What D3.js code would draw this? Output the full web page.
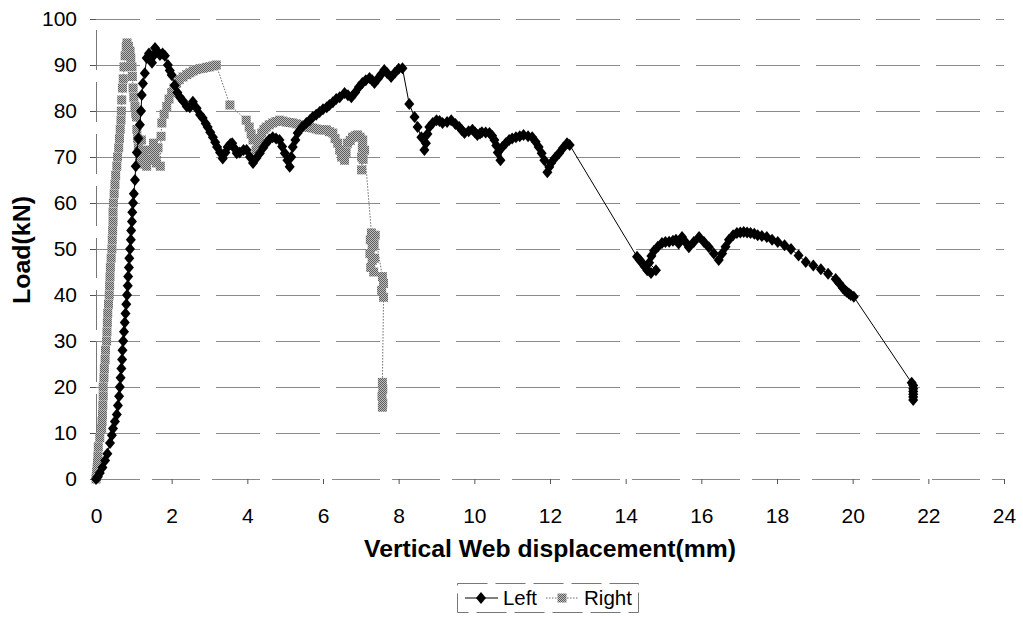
<!DOCTYPE html>
<html>
<head>
<meta charset="utf-8">
<script src="https://cdn.jsdelivr.net/npm/d3@7"></script>
<style>
  html, body { margin: 0; padding: 0; background: #fff; }
  svg { display: block; font-family: Arial, "Liberation Sans", sans-serif; }
</style>
</head>
<body>
<svg id="chart" width="1023" height="618"></svg>
<script>
// Load vs. vertical web displacement, left and right gauges
const xTicks = [0, 2, 4, 6, 8, 10, 12, 14, 16, 18, 20, 22, 24];
const yTicks = [0, 10, 20, 30, 40, 50, 60, 70, 80, 90, 100];
const seriesNames = ["Left", "Right"];

const leftX = [0,0.05,0.1,0.17,0.24,0.3,0.37,0.42,0.45,0.5,0.55,0.58,0.61,0.63,0.65,0.67,0.69,0.7,0.72,0.74,0.76,0.78,0.8,0.82,0.84,0.85,0.87,0.88,0.9,0.92,0.93,0.95,0.96,0.98,1.0,1.03,1.05,1.08,1.12,1.16,1.19,1.21,1.24,1.29,1.34,1.4,1.48,1.52,1.56,1.62,1.69,1.76,1.82,1.9,1.95,2.0,2.08,2.15,2.22,2.3,2.4,2.48,2.56,2.66,2.75,2.82,2.9,2.95,3.02,3.09,3.15,3.2,3.28,3.35,3.42,3.48,3.55,3.6,3.67,3.72,3.8,3.9,3.98,4.07,4.15,4.24,4.33,4.42,4.5,4.58,4.67,4.76,4.85,4.92,4.99,5.06,5.12,5.16,5.2,5.27,5.33,5.45,5.56,5.65,5.73,5.82,5.91,6.0,6.1,6.17,6.26,6.35,6.44,6.57,6.66,6.75,6.85,6.95,7.04,7.13,7.23,7.3,7.36,7.45,7.54,7.62,7.7,7.8,7.9,8.0,8.1,8.28,8.42,8.5,8.6,8.68,8.72,8.76,8.81,8.9,9.0,9.08,9.16,9.28,9.39,9.5,9.6,9.67,9.74,9.85,9.95,10.02,10.08,10.15,10.2,10.3,10.4,10.47,10.53,10.58,10.62,10.69,10.74,10.83,10.92,11.0,11.1,11.2,11.3,11.42,11.53,11.62,11.7,11.78,11.85,11.93,11.98,12.03,12.13,12.24,12.35,12.45,12.52,14.3,14.37,14.43,14.5,14.57,14.67,14.8,14.62,14.68,14.75,14.85,14.96,15.05,15.15,15.25,15.33,15.4,15.49,15.58,15.67,15.8,15.94,16.07,16.2,16.33,16.46,16.55,16.64,16.73,16.84,16.94,17.03,17.12,17.21,17.3,17.4,17.49,17.6,17.73,17.87,18.02,18.2,18.37,18.57,18.76,18.96,19.16,19.35,19.55,19.65,19.74,19.8,19.84,19.9,19.95,20.03,21.56,21.6,21.6,21.6,21.6,21.6,21.6];
const leftY = [0,0.5,1.3,2.5,4,5.5,7.8,9.5,11,12.5,14,16,18,20,22,24,26,28,30,32,34,36,38,40,42,44,46,48,50,52,54,56,58,60,62,65,68,71,74,77,80,83.5,86,88.2,91.5,92.5,90.5,92,93.7,93,92.2,92.5,92,90,88.8,87.8,85.6,84,83,82.2,81,80.8,82,80.6,79.2,78.5,77.3,76.5,75.4,74.3,73.2,72.2,71,69.7,71,72.2,72.8,73,71.8,70.8,71,71.5,71.5,70,68.7,69.8,70.8,72,73,73.8,74.3,74,73.7,72.3,70.8,69.3,67.9,70,72.2,73.7,75.2,76.5,77.4,78,78.7,79.2,79.8,80.4,80.8,81.3,81.9,82.6,83,83.9,83.4,83,84,85.2,86.1,86.7,87.2,86.7,86.1,87,88,88.9,88.2,87.4,88.3,89.2,89.3,81.5,78.7,76.5,74.3,71.5,73,75,76.5,77.4,78,77.8,77.4,77.6,78,77.2,76.5,75.8,75.2,75.6,75.9,75.3,74.8,75.1,75.4,75.3,75.2,74.6,73.7,72.5,71,69.3,72.2,73,73.7,74,74.3,74.5,74.8,74.5,74.3,73.3,72.2,70.8,69.3,66.7,67.8,68.7,69.8,70.8,72,73,72.6,48.3,47.6,47,46.2,45.4,44.8,45.4,47,48.5,49.6,50.5,51.3,51.5,51.6,51.8,52,51.2,52.6,51.5,50.4,51.5,52.6,51.5,50.4,49,47.6,49,50.5,52,53,53.5,53.6,53.7,53.6,53.5,53.3,53,52.8,52.6,52,51.5,50.8,50,48.6,47.2,46.4,45.6,44.6,43.5,42.5,41.5,41,40.7,40.3,40,39.6,20.9,20.3,19.6,19,18.4,17.8,17.2];

const rightX = [0,0.01,0.02,0.03,0.04,0.05,0.06,0.1,0.15,0.16,0.17,0.18,0.19,0.19,0.21,0.22,0.24,0.25,0.28,0.29,0.3,0.31,0.33,0.35,0.36,0.37,0.38,0.4,0.42,0.43,0.44,0.45,0.45,0.46,0.48,0.5,0.52,0.55,0.57,0.6,0.62,0.64,0.66,0.67,0.68,0.7,0.72,0.74,0.77,0.8,0.82,0.86,0.9,0.92,0.95,0.96,0.98,1.0,1.03,1.05,1.07,1.08,1.1,1.12,1.15,1.18,1.2,1.22,1.26,1.3,1.34,1.4,1.44,1.48,1.52,1.56,1.6,1.64,1.7,1.72,1.74,1.8,1.87,1.93,2.0,2.06,2.13,2.2,2.3,2.4,2.48,2.57,2.66,2.74,2.83,2.92,3.0,3.09,3.18,3.54,3.97,4.05,4.1,4.15,4.23,4.28,4.33,4.38,4.44,4.5,4.58,4.67,4.76,4.85,4.94,5.03,5.12,5.2,5.3,5.38,5.47,5.56,5.65,5.73,5.82,5.9,6.0,6.09,6.17,6.26,6.32,6.39,6.44,6.49,6.57,6.61,6.65,6.72,6.78,6.85,6.91,6.98,7.05,7.04,7.02,7.02,7.06,7.1,7.28,7.25,7.3,7.24,7.3,7.26,7.34,7.36,7.35,7.38,7.57,7.6,7.55,7.6,7.57,7.58,7.56,7.58,7.57];
const rightY = [0,0.5,1.5,2.5,3.5,5,7,9,11,12.5,14,16,18,20,22,24,26,28,30,32,34,36,38,40,42,44,46,48,50,52,54,56,58,60,62,64,66,68,70,72,74,76,78,80,82.4,85,87,89.6,92,94,94.8,94,93,91.5,89.6,87.5,85,83,81,79.5,78.7,76,74,72,70,68.5,73.7,71.5,70,68.5,68,69.5,71.5,69.3,73,70.5,68.7,72,68,74.5,77.4,79.3,81,82.6,84,85,86,86.8,87.4,87.9,88.3,88.7,89,89.2,89.3,89.5,89.6,89.8,90,81.3,78,76.5,75,73.7,71.5,72.8,74,75.2,76,76.5,77,77.4,77.7,78,77.8,77.6,77.5,77.4,77.2,77,76.8,76.5,76.4,76.3,76.1,75.9,75.9,75.9,75.5,75.2,74,73,71.5,70,69.3,71,73,73.6,74.3,74.6,74.8,74.3,73.7,72,70,67.2,69.5,71.5,53.5,52,50.5,49,47.5,46,45,48,51,53,44,42.5,41,39.5,21,19.5,18,16.5,15.6];

const svg = d3.select("#chart");
const plot = { left: 96, right: 1004, top: 19, bottom: 479 };

const x = d3.scaleLinear().domain([0, 24]).range([plot.left, plot.right]);
const y = d3.scaleLinear().domain([0, 100]).range([plot.bottom, plot.top]);

// checkered fill for the grey square markers
const defs = svg.append("defs");
const pat = defs.append("pattern").attr("id", "greyCheck")
  .attr("width", 2).attr("height", 2).attr("patternUnits", "userSpaceOnUse");
pat.append("rect").attr("width", 2).attr("height", 2).attr("fill", "#bdbdbd");
pat.append("rect").attr("width", 1).attr("height", 1).attr("fill", "#5e5e5e");
pat.append("rect").attr("x", 1).attr("y", 1).attr("width", 1).attr("height", 1).attr("fill", "#5e5e5e");

// diamond marker: 10 wide, 12 tall
const diamondPath = "M0,-6L5,0L0,6L-5,0Z";

// horizontal gridlines
svg.append("g").attr("class", "grid")
  .attr("transform", `translate(${plot.left},0)`)
  .call(d3.axisLeft(y).tickValues(yTicks).tickSize(-(plot.right - plot.left)).tickFormat(""))
  .call(g => g.select(".domain").remove())
  .call(g => g.selectAll("line")
    .attr("stroke", "#8a8a8a").attr("stroke-width", 1)
    .attr("stroke-dasharray", "44,16"));

// y axis
svg.append("g")
  .attr("transform", `translate(${plot.left},0)`)
  .call(d3.axisLeft(y).tickValues(yTicks).tickSize(6).tickPadding(13))
  .call(g => g.select(".domain").attr("stroke", "#777").attr("stroke-dasharray", "40,12"))
  .call(g => g.selectAll(".tick line").attr("stroke", "#555"))
  .call(g => g.selectAll("text").attr("font-size", 21).attr("fill", "#000")
    .attr("font-family", "Arial, 'Liberation Sans', sans-serif"));

// x axis
svg.append("g")
  .attr("transform", `translate(0,${plot.bottom})`)
  .call(d3.axisBottom(x).tickValues(xTicks).tickSize(5).tickPadding(24))
  .call(g => g.select(".domain").attr("stroke", "#888").attr("stroke-dasharray", "44,16"))
  .call(g => g.selectAll(".tick line").attr("stroke", "#555"))
  .call(g => g.selectAll("text").attr("font-size", 21).attr("fill", "#000")
    .attr("font-family", "Arial, 'Liberation Sans', sans-serif"));

// axis titles
svg.append("text")
  .attr("x", 550).attr("y", 557)
  .attr("text-anchor", "middle")
  .attr("font-size", 24).attr("font-weight", "bold")
  .attr("textLength", 372).attr("lengthAdjust", "spacingAndGlyphs")
  .text("Vertical Web displacement(mm)");

svg.append("text")
  .attr("transform", `translate(30,250) rotate(-90)`)
  .attr("text-anchor", "middle")
  .attr("font-size", 23).attr("font-weight", "bold")
  .attr("textLength", 108).attr("lengthAdjust", "spacingAndGlyphs")
  .text("Load(kN)");

const leftData = leftX.map((v, i) => [v, leftY[i]]);
const rightData = rightX.map((v, i) => [v, rightY[i]]);
const line = d3.line().x(d => x(d[0])).y(d => y(d[1]));

// Right series (grey dotted line, checkered squares)
svg.append("path").datum(rightData)
  .attr("d", line).attr("fill", "none")
  .attr("stroke", "#6a6a6a").attr("stroke-width", 1).attr("stroke-dasharray", "1.5,1.5");
svg.append("g").selectAll("rect").data(rightData).join("rect")
  .attr("x", d => x(d[0]) - 4.5).attr("y", d => y(d[1]) - 4.5)
  .attr("width", 9).attr("height", 9)
  .attr("fill", "url(#greyCheck)");

// Left series (black line, diamonds)
svg.append("path").datum(leftData)
  .attr("d", line).attr("fill", "none")
  .attr("stroke", "#000").attr("stroke-width", 1);
svg.append("g").selectAll("path").data(leftData).join("path")
  .attr("transform", d => `translate(${x(d[0])},${y(d[1])})`)
  .attr("d", diamondPath).attr("fill", "#000");

// legend
const lg = svg.append("g").attr("class", "legend");
lg.append("rect").attr("x", 457.5).attr("y", 583.5).attr("width", 181).attr("height", 29)
  .attr("fill", "#fff").attr("stroke", "#777").attr("stroke-width", 1)
  .attr("stroke-dasharray", "30,8");
lg.append("line").attr("x1", 465).attr("x2", 498).attr("y1", 598).attr("y2", 598)
  .attr("stroke", "#000").attr("stroke-width", 1);
lg.append("path").attr("transform", "translate(481,598)").attr("d", diamondPath).attr("fill", "#000");
lg.append("text").attr("x", 503).attr("y", 605).attr("font-size", 20)
  .attr("textLength", 34).attr("lengthAdjust", "spacingAndGlyphs").text(seriesNames[0]);
lg.append("line").attr("x1", 546).attr("x2", 578).attr("y1", 598).attr("y2", 598)
  .attr("stroke", "#6a6a6a").attr("stroke-width", 1).attr("stroke-dasharray", "1.5,1.5");
lg.append("rect").attr("x", 557.5).attr("y", 593.5).attr("width", 9).attr("height", 9)
  .attr("fill", "url(#greyCheck)");
lg.append("text").attr("x", 584).attr("y", 605).attr("font-size", 20)
  .attr("textLength", 48).attr("lengthAdjust", "spacingAndGlyphs").text(seriesNames[1]);
</script>
</body>
</html>
